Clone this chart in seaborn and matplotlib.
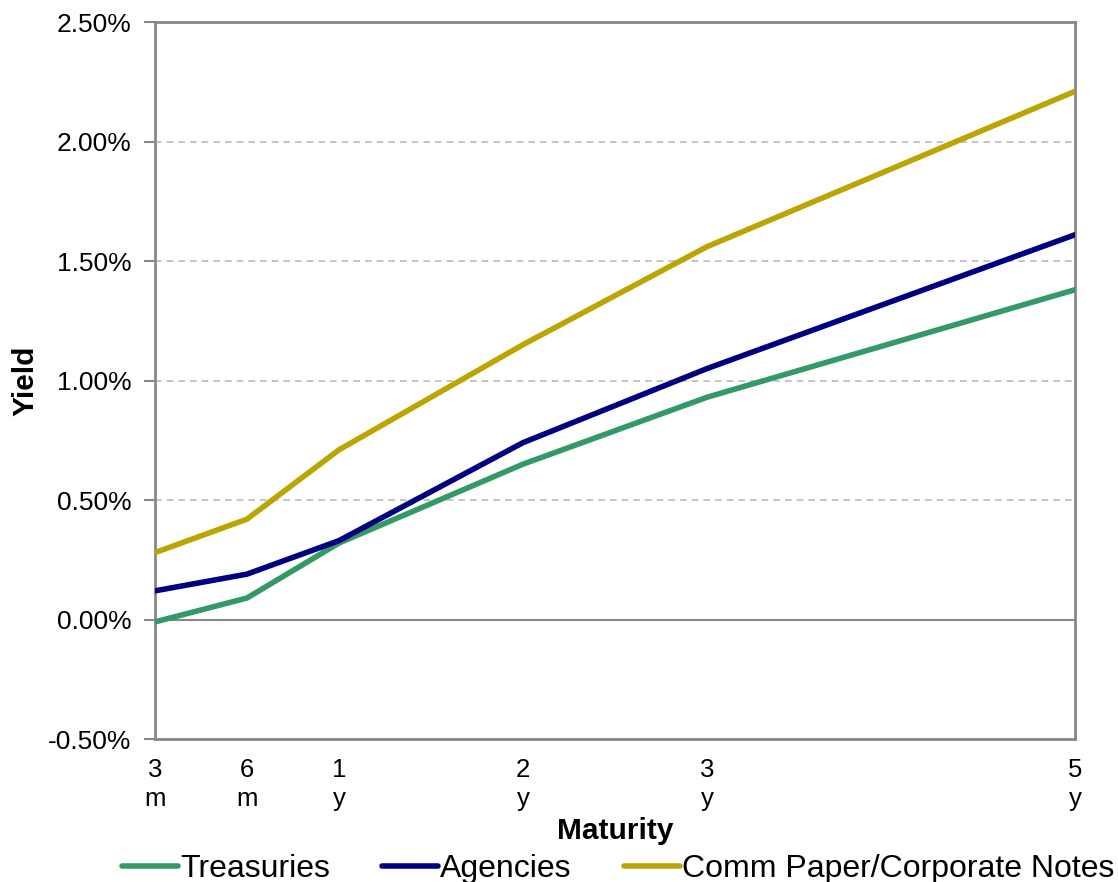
import pandas as pd
import matplotlib.pyplot as plt
import matplotlib.ticker as mtick
import seaborn as sns

# maturities (positions follow the spacing of the original chart)
maturity_labels = ['3\nm', '6\nm', '1\ny', '2\ny', '3\ny', '5\ny']
maturity_pos = [0, 1, 2, 4, 6, 10]

# yields in percent
treasuries = [-0.01, 0.09, 0.32, 0.65, 0.93, 1.38]
agencies = [0.12, 0.19, 0.33, 0.74, 1.05, 1.61]
comm_paper = [0.28, 0.42, 0.71, 1.15, 1.56, 2.21]

series_names = ['Treasuries', 'Agencies', 'Comm Paper/Corporate Notes']
colors = ['#339966', '#000080', '#BCA500']

df = pd.DataFrame({
    'pos': maturity_pos * 3,
    'yield': treasuries + agencies + comm_paper,
    'series': [s for s in series_names for _ in maturity_pos],
})

sns.set_style('white')
plt.rcParams['font.family'] = ['Liberation Sans', 'DejaVu Sans']
plt.rcParams['text.color'] = 'black'
plt.rcParams['axes.labelcolor'] = 'black'
plt.rcParams['xtick.color'] = 'black'
plt.rcParams['ytick.color'] = 'black'

fig = plt.figure(figsize=(11.18, 8.82), dpi=100)
ax = fig.add_axes([0.1386, 0.1621, 0.8229, 0.8129])

sns.lineplot(data=df, x='pos', y='yield', hue='series', palette=colors,
             linewidth=4, ax=ax, legend=False, zorder=3)

ax.set_xlim(0, 10)
ax.set_ylim(-0.5, 2.5)
ax.set_yticks([-0.5, 0, 0.5, 1.0, 1.5, 2.0, 2.5])
ax.yaxis.set_major_formatter(mtick.FuncFormatter(lambda v, p: f'{v:.2f}%'))
ax.set_xticks(maturity_pos)
ax.set_xticklabels(maturity_labels, fontsize=18.5, linespacing=1.25)
ax.tick_params(axis='y', labelsize=19, length=8, width=1.5, color='#888888',
               labelcolor='black', pad=9, left=True)
ax.tick_params(axis='x', length=0, pad=14, labelcolor='black')

# dashed grid, solid zero line
for v in [0.5, 1.0, 1.5, 2.0]:
    ax.axhline(v, color='#BBBBBB', linestyle=(0, (4, 3)), linewidth=1.2, zorder=1)
ax.axhline(0, color='#888888', linewidth=1.5, zorder=1)

for sp in ax.spines.values():
    sp.set_color('#888888')
    sp.set_linewidth(2)

ax.set_ylabel('Yield', fontsize=21.5, fontweight='bold', labelpad=6)
ax.set_xlabel('Maturity', fontsize=21.5, fontweight='bold', labelpad=4)

handles = [plt.Line2D([], [], color=c, linewidth=4) for c in colors]
fig.legend(handles, series_names, loc='lower center', bbox_to_anchor=(0.553, -0.035),
           ncol=3, frameon=False, fontsize=23, handlelength=1.75, handletextpad=0.07,
           columnspacing=1.63)

fig.savefig('out.png', dpi=100)
